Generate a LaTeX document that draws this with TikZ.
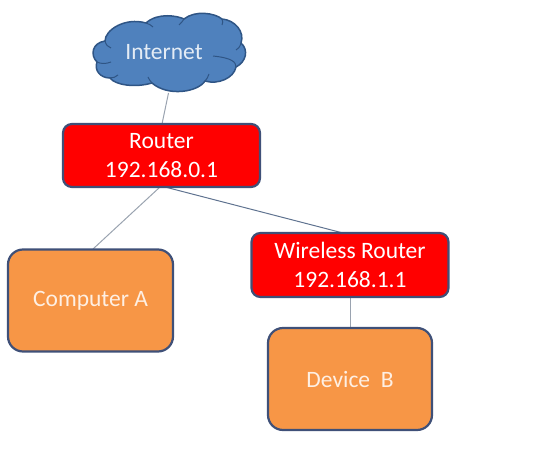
\documentclass[tikz,border=0pt]{standalone}
\usepackage{fontspec}
\setmainfont{Carlito}
\definecolor{edgeblue}{HTML}{3F5078}
\definecolor{routerred}{HTML}{FF0000}
\definecolor{deviceorange}{HTML}{F79646}
\definecolor{cloudblue}{HTML}{4F81BD}
\definecolor{cloudedge}{HTML}{2F5585}
\definecolor{wiregray}{HTML}{9AA3B0}
\definecolor{wireblue}{HTML}{5F7390}
\tikzset{
  box/.style={draw=edgeblue,line width=2.2pt,rounded corners=9pt,text=white,align=center,outer sep=0pt,inner sep=0pt},
  routerbox/.style={box,fill=routerred,font=\fontsize{23.5}{29}\selectfont},
  devicebox/.style={box,fill=deviceorange,rounded corners=15pt,text=white!85!deviceorange,font=\fontsize{23.5}{26}\selectfont},
  wire/.style={draw=wiregray,line width=1pt},
  wirealt/.style={draw=wireblue,line width=1pt},
}
\begin{document}
\begin{tikzpicture}[x=1pt,y=-1pt]
\useasboundingbox (0,0) rectangle (540,470);
% anchors for connector ends
\coordinate (cloudfoot) at (168.5,93);
\coordinate (routertop) at (162,124);
\coordinate (routerleft) at (160,187);
\coordinate (routerright) at (165,187);
\coordinate (compfoot) at (93,249);
\coordinate (wltop) at (343,233);
\coordinate (wlbottom) at (350,297);
\coordinate (devtop) at (350,328);
\draw[wire] (cloudfoot) -- (routertop);
\draw[wire] (routerleft) -- (compfoot);
\draw[wirealt] (routerright) -- (wltop);
\draw[wire] (wlbottom) -- (devtop);
% cloud
\draw[fill=cloudblue,draw=cloudedge,line width=1.5pt,line join=round]
  (97,62) .. controls (90,55) and (92,43) .. (105,41)
  .. controls (105,30) and (125,17) .. (146,23)
  .. controls (158,12) and (178,16) .. (184,19)
  .. controls (195,10) and (215,13) .. (222,19)
  .. controls (235,20) and (245,32) .. (241,43)
  .. controls (249,50) and (246,62) .. (236,67)
  .. controls (234,78) and (218,85) .. (205,81)
  .. controls (198,92) and (168,97) .. (152,83)
  .. controls (135,88) and (115,85) .. (110,78)
  .. controls (100,78) and (94,70) .. (97,62) -- cycle;
\draw[cloudedge,line width=1pt]
  (105,41) .. controls (106,45) and (108,47) .. (111,48)
  (97,62) .. controls (101,64) and (106,64) .. (111,62)
  (110,78) .. controls (113,78) and (116,77) .. (118,75)
  (152,83) .. controls (150,81) and (149,79) .. (148,77)
  (205,81) .. controls (207,79) and (208,77) .. (209,74)
  (236,67) .. controls (236,62) and (232,58) .. (213,56)
  (241,43) .. controls (240,47) and (238,49) .. (236,50)
  (222,19) .. controls (223,21) and (223,23) .. (222,25)
  (184,19) .. controls (183,21) and (181,23) .. (179,25)
  (146,23) .. controls (149,24) and (151,25) .. (153,27);
\node[text=white!85!cloudblue,font=\fontsize{23.5}{26}\selectfont] (internet) at (164,52) {Internet};
% boxes
\node[routerbox,minimum width=197pt,minimum height=63pt] (router) at (161.5,155.5) {Router\\192.168.0.1};
\node[routerbox,minimum width=197pt,minimum height=64pt] (wireless) at (350,265) {Wireless Router\\192.168.1.1};
\node[devicebox,minimum width=165pt,minimum height=102pt] (computer) at (90.5,300.5) {\raisebox{-2.5pt}{Computer A}};
\node[devicebox,minimum width=164pt,minimum height=102pt] (device) at (350,379) {Device\ \ B};
\end{tikzpicture}
\end{document}
